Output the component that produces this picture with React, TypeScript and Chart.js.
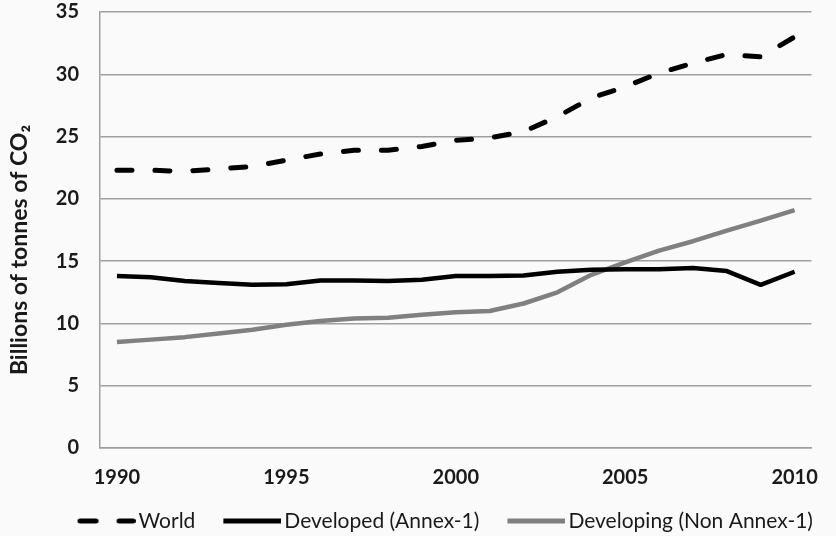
import React, { useEffect, useRef } from "react";
import { Chart, registerables } from "chart.js";

Chart.register(...registerables);

const years = [
  "1990", "1991", "1992", "1993", "1994", "1995", "1996", "1997", "1998", "1999",
  "2000", "2001", "2002", "2003", "2004", "2005", "2006", "2007", "2008", "2009", "2010",
];
const world = [22.3, 22.3, 22.2, 22.4, 22.6, 23.1, 23.6, 23.9, 23.9, 24.2, 24.7, 24.9, 25.4, 26.6, 28.1, 29.0, 30.1, 30.9, 31.6, 31.4, 33.0];
const developed = [13.8, 13.7, 13.4, 13.25, 13.1, 13.15, 13.45, 13.45, 13.4, 13.5, 13.8, 13.8, 13.85, 14.15, 14.3, 14.35, 14.35, 14.45, 14.2, 13.1, 14.15];
const developing = [8.5, 8.7, 8.9, 9.2, 9.5, 9.9, 10.2, 10.4, 10.45, 10.7, 10.9, 11.0, 11.6, 12.5, 13.9, 14.9, 15.85, 16.6, 17.45, 18.25, 19.1];
const yTicks = [0, 5, 10, 15, 20, 25, 30, 35];
const seriesNames = ["World", "Developed (Annex-1)", "Developing (Non Annex-1)"];
const yTitle = "Billions of tonnes of CO\u2082";

const FONT = "Lato, 'Open Sans', sans-serif";
const TEXT = "#1a1a1a";
const GRID = "#a0a0a0";

// legend swatch: transparent left margin, line sample in the right 58px
function legendSwatch(color: string, dashed: boolean): HTMLCanvasElement {
  const c = document.createElement("canvas");
  c.width = 74;
  c.height = 8;
  const ctx = c.getContext("2d")!;
  ctx.strokeStyle = color;
  ctx.lineWidth = 5;
  ctx.beginPath();
  if (dashed) {
    ctx.lineCap = "round";
    ctx.setLineDash([16, 23]);
    ctx.moveTo(18.5, 4);
    ctx.lineTo(71.5, 4);
  } else {
    ctx.lineCap = "butt";
    ctx.moveTo(16, 4);
    ctx.lineTo(74, 4);
  }
  ctx.stroke();
  return c;
}

export default function App() {
  const ref = useRef<HTMLCanvasElement | null>(null);

  useEffect(() => {
    document.body.style.margin = "0";
    const canvas = ref.current;
    if (!canvas) return;
    const bg = {
      id: "bg",
      beforeDraw(chart: any) {
        const { ctx, width, height } = chart;
        ctx.save();
        ctx.fillStyle = "#fafafa";
        ctx.fillRect(0, 0, width, height);
        ctx.restore();
      },
    };
    const shiftLegend = {
      id: "shiftLegend",
      afterLayout(chart: any) {
        const lg = chart.legend;
        if (lg) {
          lg.left += 27;
          lg.right += 27;
        }
      },
    };
    const yTitlePlugin = {
      id: "yTitlePlugin",
      afterDraw(chart: any) {
        const { ctx, chartArea } = chart;
        ctx.save();
        ctx.translate(20, (chartArea.top + chartArea.bottom) / 2 + 20);
        ctx.rotate(-Math.PI / 2);
        ctx.font = `bold 23px ${FONT}`;
        ctx.fillStyle = TEXT;
        ctx.textAlign = "center";
        ctx.textBaseline = "middle";
        ctx.fillText(yTitle, 0, 0);
        ctx.restore();
      },
    };
    const colors = ["#000000", "#000000", "#808080"];
    const swatches = [legendSwatch(colors[0], true), legendSwatch(colors[1], false), legendSwatch(colors[2], false)];
    const chart = new Chart(canvas, {
      type: "line",
      data: {
        labels: years,
        datasets: [
          {
            label: seriesNames[0],
            data: world,
            borderColor: colors[0],
            backgroundColor: colors[0],
            borderWidth: 5,
            borderDash: [15, 23],
            borderCapStyle: "round",
            pointRadius: 0,
            tension: 0,
          },
          {
            label: seriesNames[1],
            data: developed,
            borderColor: colors[1],
            backgroundColor: colors[1],
            borderWidth: 4.5,
            borderJoinStyle: "round",
            pointRadius: 0,
            tension: 0,
          },
          {
            label: seriesNames[2],
            data: developing,
            borderColor: colors[2],
            backgroundColor: colors[2],
            borderWidth: 4.5,
            borderJoinStyle: "round",
            pointRadius: 0,
            tension: 0,
          },
        ],
      },
      plugins: [bg, shiftLegend, yTitlePlugin],
      options: {
        animation: false,
        responsive: false,
        maintainAspectRatio: false,
        layout: { padding: { top: 0, right: 8, left: 0, bottom: -5.5 } },
        plugins: {
          tooltip: { enabled: false },
          legend: {
            position: "bottom",
            labels: {
              usePointStyle: true,
              pointStyleWidth: 59,
              boxHeight: 8,
              padding: 19.5,
              color: TEXT,
              font: { family: FONT, size: 21 },
              generateLabels: (c: any) =>
                c.data.datasets.map((ds: any, i: number) => ({
                  text: ds.label,
                  fillStyle: ds.borderColor,
                  strokeStyle: ds.borderColor,
                  fontColor: TEXT,
                  lineWidth: 0,
                  pointStyle: swatches[i],
                  hidden: false,
                  datasetIndex: i,
                })),
            },
          },
        },
        scales: {
          x: {
            offset: true,
            afterFit: (scale: any) => {
              scale.height = 43;
            },
            grid: { display: false, drawTicks: false },
            border: { display: true, color: GRID, width: 1.5 },
            ticks: {
              autoSkip: false,
              maxRotation: 0,
              padding: 18,
              color: TEXT,
              font: { family: FONT, size: 20, weight: "bold" },
              callback: (_v: any, i: number) => (Number(years[i]) % 5 === 0 ? years[i] : ""),
            },
          },
          y: {
            min: 0,
            max: 35,
            afterBuildTicks: (scale: any) => {
              scale.ticks = yTicks.map((v) => ({ value: v }));
            },
            afterFit: (scale: any) => {
              scale.width = 100;
            },
            grid: { color: GRID, lineWidth: 1.5, drawTicks: true, tickLength: 21, tickColor: "rgba(0,0,0,0)" },
            border: { display: true, color: GRID, width: 1.5 },
            ticks: {
              padding: 0,
              color: TEXT,
              font: { family: FONT, size: 20, weight: "bold" },
            },
            title: { display: false },
          },
        },
      },
    } as any);
    return () => chart.destroy();
  }, []);

  return (
    <div style={{ width: 836, height: 536 }}>
      <canvas ref={ref} width={836} height={536} style={{ width: 836, height: 536, display: "block" }} />
    </div>
  );
}
